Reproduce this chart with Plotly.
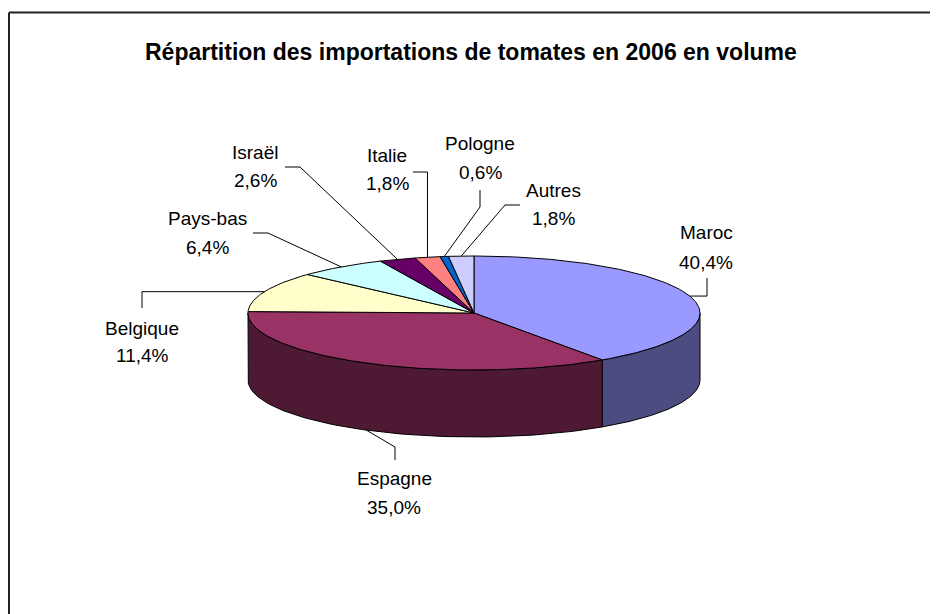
import numpy as np
import plotly.graph_objects as go

# ---- data ----
countries = ["Maroc", "Espagne", "Belgique", "Pays-bas", "Israël", "Italie", "Pologne", "Autres"]
shares = [40.4, 35.0, 11.4, 6.4, 2.6, 1.8, 0.6, 1.8]
top_colors = ["#9999FF", "#993366", "#FFFFCC", "#CCFFFF", "#660066", "#FF8080", "#0066CC", "#CCCCFF"]
side_colors = ["#4C4C80", "#4D1933", "#80805F", "#5F8080", "#330033", "#804040", "#003366", "#66667F"]
title = "Répartition des importations de tomates en 2006 en volume"

# ---- layout geometry (page pixels; the page body has an 8px margin) ----
OFF = 8
W, H = 938, 614
cx, cy, rx, ry, depth = 474, 313, 226, 57, 67

# label placement: (x center, y of name line, y of value line, leader path after rim point)
label_pos = {
    "Maroc":    (706, 232, 262, [(707, "rimy"), (707, 278)]),
    "Espagne":  (394, 478, 507, [(395, 447), (395, 460)]),
    "Belgique": (142, 328, 355, [(142, "rimy"), (142, 308)]),
    "Pays-bas": (207, 218, 247, [(268, 233), (253, 233)]),
    "Israël":   (255, 152, 180, [(300, 167), (285, 167)]),
    "Italie":   (387, 155, 183, [("rimx", 172), (413, 172)]),
    "Pologne":  (480, 143, 172, [(480, 207), (480, 190)]),
    "Autres":   (553, 190, 218, [(505, 205), (520, 205)]),
}


def pt(theta_deg, dy=0.0):
    t = np.radians(theta_deg)
    return cx + rx * np.sin(t), cy - ry * np.cos(t) + dy


fig = go.Figure()

total = sum(shares)
bounds = np.concatenate([[0], np.cumsum(shares)]) / total * 360.0

# sides (front half: 90..270 deg)
for i, name in enumerate(countries):
    a, b = max(bounds[i], 90), min(bounds[i + 1], 270)
    if b <= a:
        continue
    th = np.linspace(a, b, 80)
    xs_top, ys_top = pt(th)
    xs_bot, ys_bot = pt(th[::-1], depth)
    xs = np.concatenate([xs_top, xs_bot, [xs_top[0]]])
    ys = np.concatenate([ys_top, ys_bot, [ys_top[0]]])
    fig.add_trace(go.Scatter(x=xs, y=ys, mode="lines", fill="toself",
                             fillcolor=side_colors[i], line=dict(color="black", width=1),
                             hoverinfo="skip", showlegend=False))

# top faces
for i, name in enumerate(countries):
    th = np.linspace(bounds[i], bounds[i + 1], max(4, int((bounds[i + 1] - bounds[i]) * 2)))
    xs, ys = pt(th)
    xs = np.concatenate([[cx], xs, [cx]])
    ys = np.concatenate([[cy], ys, [cy]])
    fig.add_trace(go.Scatter(x=xs, y=ys, mode="lines", fill="toself",
                             fillcolor=top_colors[i], line=dict(color="black", width=1),
                             hoverinfo="skip", showlegend=False, name=name))

# labels + leader lines
for i, name in enumerate(countries):
    mid = (bounds[i] + bounds[i + 1]) / 2
    front = 90 < mid < 270
    rxp, ryp = pt(mid, depth if front else 0)
    lx, y1, y2, path = label_pos[name]
    px, py = [rxp], [ryp]
    for (x, y) in path:
        px.append(rxp if x == "rimx" else x)
        py.append(ryp if y == "rimy" else y)
    fig.add_trace(go.Scatter(x=px, y=py, mode="lines", line=dict(color="black", width=1),
                             hoverinfo="skip", showlegend=False))
    val = f"{shares[i]:.1f}".replace(".", ",") + "%"
    for txt, yy in ((name, y1), (val, y2)):
        fig.add_annotation(x=lx, y=yy, text=txt, showarrow=False, xanchor="center", yanchor="middle",
                           font=dict(family="Arial, Liberation Sans", size=19, color="black"))

fig.add_annotation(x=471, y=52, text=f"<b>{title}</b>", showarrow=False, xanchor="center",
                   yanchor="middle", font=dict(family="Arial, Liberation Sans", size=23, color="black"))

# frame (left and top edges)
fig.add_shape(type="line", x0=9, x1=9, y0=12.5, y1=H, line=dict(color="#222", width=2))
fig.add_shape(type="line", x0=9, x1=W, y0=12.5, y1=12.5, line=dict(color="#222", width=2))

fig.update_xaxes(range=[OFF, W], visible=False, fixedrange=True)
fig.update_yaxes(range=[H, OFF], visible=False, fixedrange=True)
fig.update_layout(width=W - OFF, height=H - OFF, margin=dict(l=0, r=0, t=0, b=0),
                  paper_bgcolor="white", plot_bgcolor="white", showlegend=False)

fig.write_html("out.html")
